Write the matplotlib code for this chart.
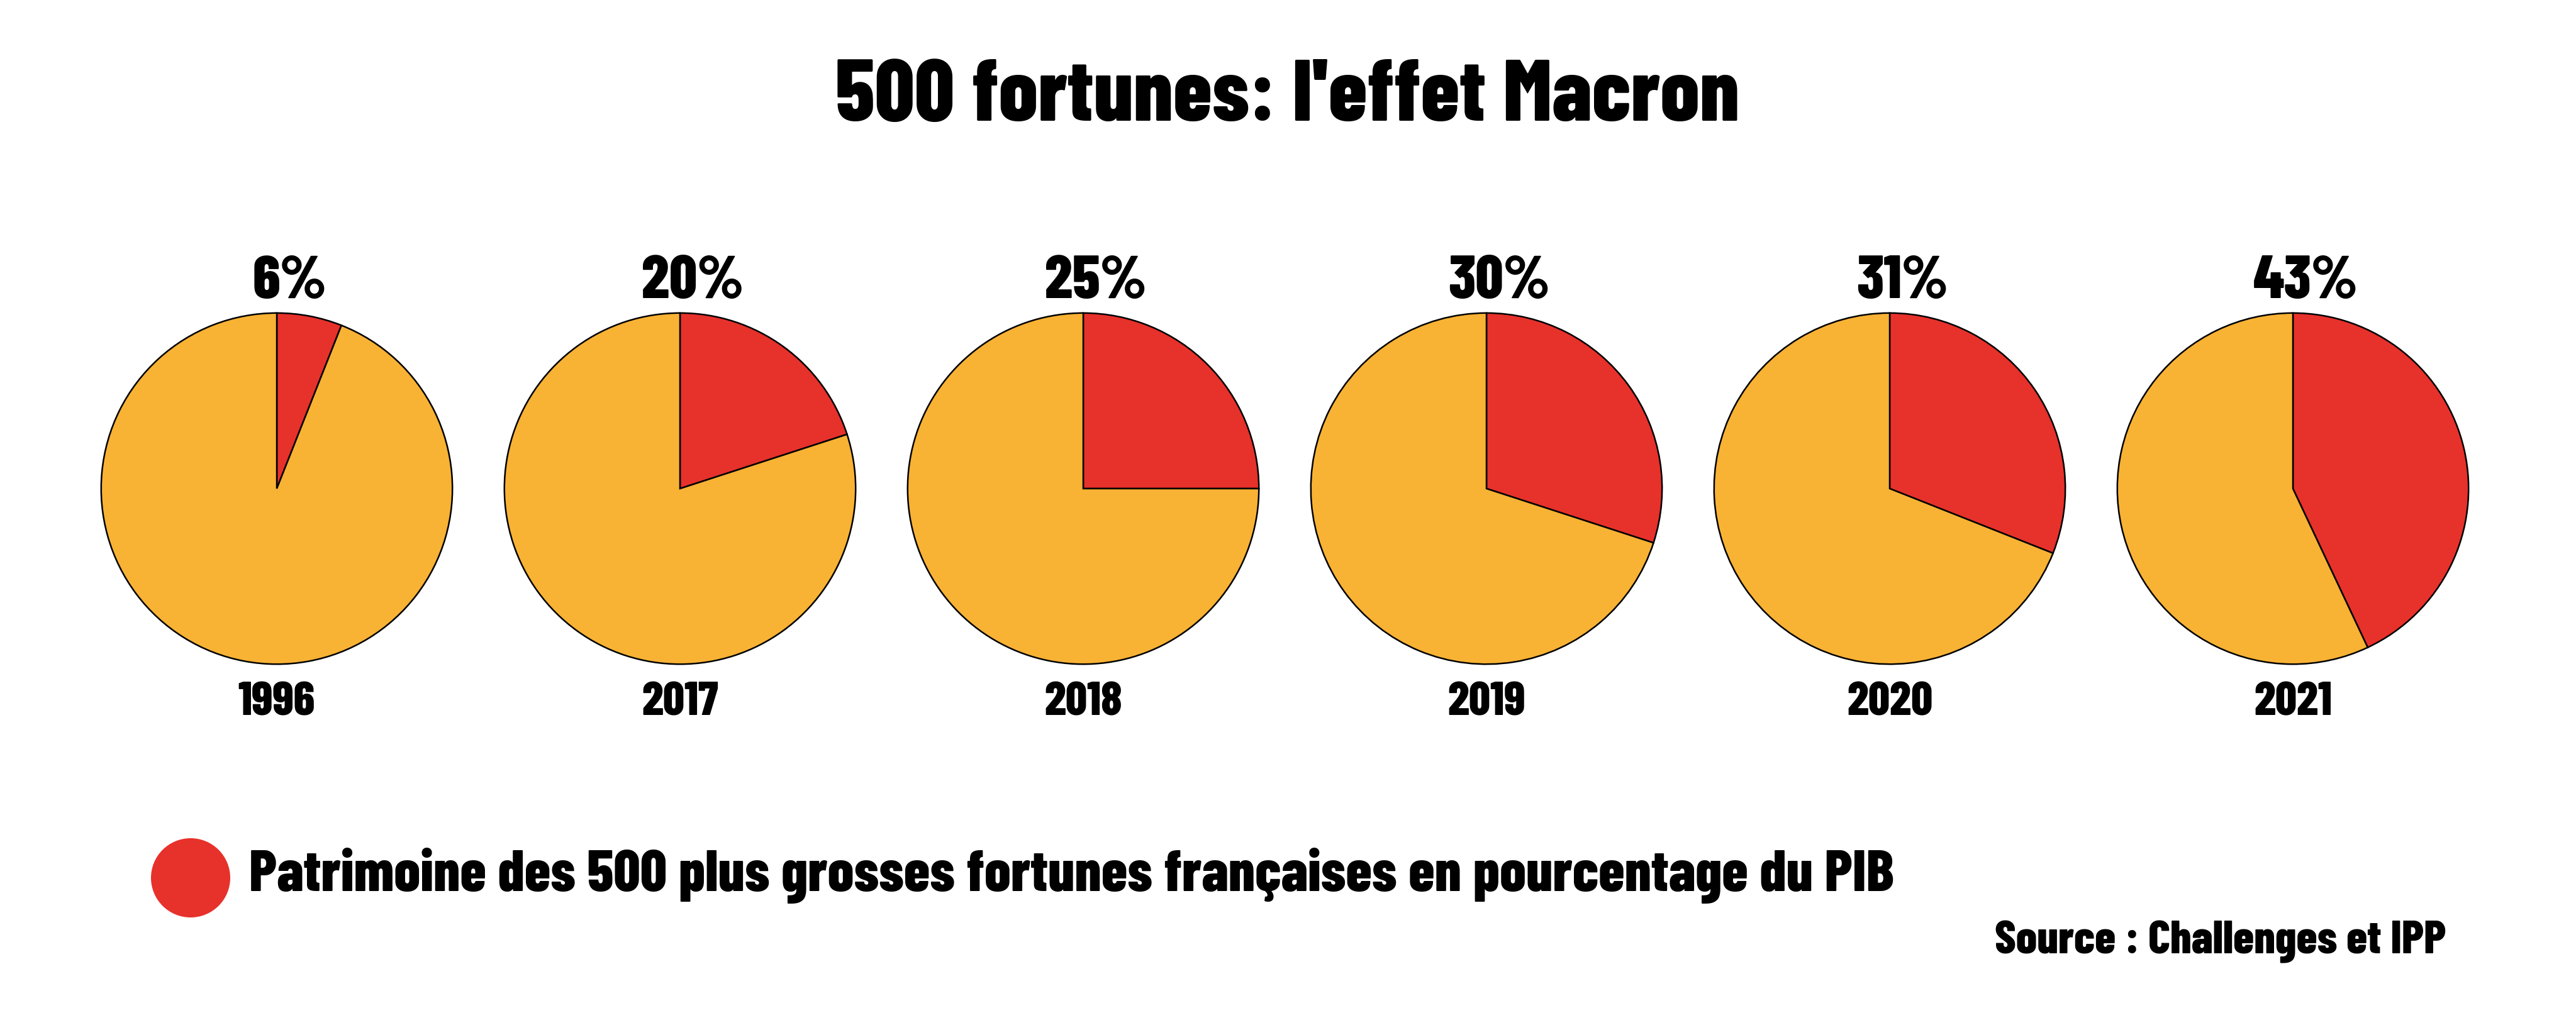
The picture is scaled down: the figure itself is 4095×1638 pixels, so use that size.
import matplotlib
matplotlib.use("Agg")
import matplotlib.pyplot as plt

# Données
annees = ["1996", "2017", "2018", "2019", "2020", "2021"]
parts = [6, 20, 25, 30, 31, 43]
titre = "500 fortunes: l'effet Macron"
legende = "Patrimoine des 500 plus grosses fortunes françaises en pourcentage du PIB"
source = "Source : Challenges et IPP"

ROUGE = "#E7312B"
ORANGE = "#F8B234"

# Police condensée grasse
police = dict(family=["Barlow Condensed", "DejaVu Sans"], weight=800)

W, H = 4095, 1638
fig = plt.figure(figsize=(W / 100, H / 100), dpi=100)

# Axe de fond en pixels pour les textes et la légende
fond = fig.add_axes([0, 0, 1, 1])
fond.set_xlim(0, W)
fond.set_ylim(H, 0)
fond.axis("off")

cx0, pas, cy, r = 440, 641, 777, 282
for i, (an, p) in enumerate(zip(annees, parts)):
    cx = cx0 + pas * i
    ax = fig.add_axes([(cx - r) / W, 1 - (cy + r) / H, 2 * r / W, 2 * r / H])
    ax.pie([p, 100 - p], colors=[ROUGE, ORANGE], startangle=90, counterclock=False,
           wedgeprops=dict(edgecolor="black", linewidth=1.8), radius=1)
    ax.set_xlim(-1.01, 1.01)
    ax.set_ylim(-1.01, 1.01)
    ax.set_aspect("equal")
    ax.axis("off")
    fond.text(cx + 20, 474, f"{p}%", ha="center", va="baseline", fontsize=70, **police)
    fond.text(cx, 1137, an, ha="center", va="baseline", fontsize=54, **police)

fond.text(2047, 192, titre, ha="center", va="baseline", fontsize=100, **police)

fond.scatter([303], [1396], s=(126 * 0.72) ** 2, color=ROUGE, edgecolor="none")
fond.text(396, 1417, legende, ha="left", va="baseline", fontsize=67, **police)
fond.text(3888, 1516, source, ha="right", va="baseline", fontsize=53.5, **police)

fig.savefig("out.png", dpi=100, facecolor="white")
